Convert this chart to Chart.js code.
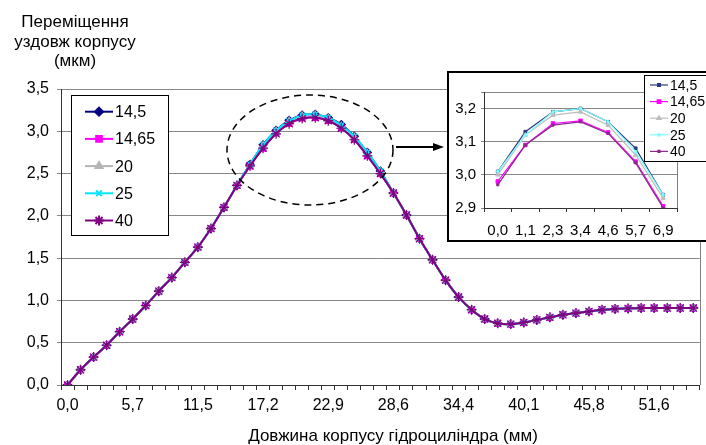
<!DOCTYPE html>
<html>
<head>
<meta charset="utf-8">
<script src="https://cdn.jsdelivr.net/npm/chart.js@4.4.1/dist/chart.umd.min.js"></script>
<style>
    html, body { margin: 0; padding: 0; background: #fff; overflow: hidden; }
    #wrap { position: relative; width: 706px; height: 445px; }
    #main { position: absolute; left: 0; top: 0; }
    #insetBox {
        position: absolute; left: 447px; top: 71px;
        width: 258px; height: 167px;
        border: 2px solid #000; background: #fff;
    }
</style>
</head>
<body>
<div id="wrap">
    <canvas id="main" width="706" height="445"></canvas>
    <div id="insetBox"><canvas id="inset" width="258" height="167"></canvas></div>
</div>
<script>
// ---- DATA ----
const xLabels = ['0,0', '1,1', '2,3', '3,4', '4,6', '5,7', '6,9', '8,0', '9,2', '10,3',
    '11,5', '12,6', '13,8', '14,9', '16,0', '17,2', '18,3', '19,5', '20,6', '21,8',
    '22,9', '24,1', '25,2', '26,4', '27,5', '28,6', '29,8', '30,9', '32,1', '33,2',
    '34,4', '35,5', '36,7', '37,8', '39,0', '40,1', '41,3', '42,4', '43,5', '44,7',
    '45,8', '47,0', '48,1', '49,3', '50,4', '51,6', '52,7', '53,9', '55,0'];
const insetLabels = ['0,0', '1,1', '2,3', '3,4', '4,6', '5,7', '6,9'];

const seriesNames = ['14,5', '14,65', '20', '25', '40'];

// shared parts of the curve (all series coincide here)
const rising = [0.00, 0.18, 0.33, 0.47, 0.63, 0.78, 0.94, 1.11, 1.27, 1.45, 1.63, 1.85, 2.10, 2.36];
const tail = [2.27, 2.01, 1.73, 1.48, 1.24, 1.04, 0.89, 0.78, 0.73, 0.72, 0.74, 0.77,
    0.80, 0.83, 0.85, 0.87, 0.89, 0.90, 0.905, 0.91, 0.91, 0.91, 0.91, 0.91];

// peak region, where the series separate (zoomed in the inset)
const peak145 = [2.61, 2.84, 3.01, 3.13, 3.19, 3.20, 3.16, 3.08, 2.94, 2.75, 2.53];
const peak1465 = [2.59, 2.80, 2.98, 3.09, 3.155, 3.163, 3.128, 3.04, 2.905, 2.71, 2.50];
const peak20 = [2.60, 2.83, 3.00, 3.12, 3.18, 3.19, 3.15, 3.06, 2.93, 2.74, 2.52];
const peak25 = [2.61, 2.84, 3.01, 3.12, 3.19, 3.20, 3.16, 3.07, 2.94, 2.75, 2.53];
const peak40 = [2.59, 2.80, 2.97, 3.09, 3.15, 3.16, 3.125, 3.036, 2.90, 2.71, 2.50];

const yTicksMain = { min: 0, max: 3.5, step: 0.5 };
const yTicksInset = { min: 2.9, max: 3.25, step: 0.1 };

const FONT = "'Liberation Sans', Arial, sans-serif";

const peaks = [peak145, peak1465, peak20, peak25, peak40];
const styles = [
    { color: '#000080', point: 'rectRot', radius: 4 },
    { color: '#FF00FF', point: 'rect', radius: 4 },
    { color: '#B4B4B4', point: 'triangle', radius: 4 },
    { color: '#00E5FF', point: 'crossRot', radius: 4 },
    { color: '#800080', point: 'star', radius: 5 }
];
const insetStyles = [
    { color: '#2A3A80', point: 'rect', radius: 2 },
    { color: '#FF00FF', point: 'rect', radius: 2.5 },
    { color: '#BDBDBD', point: 'triangle', radius: 2.5 },
    { color: '#7FFFFF', point: 'rect', radius: 1.5 },
    { color: '#8A2A8A', point: 'rect', radius: 1.5 }
];

const fmt = v => (Math.round(v * 100) / 100).toFixed(1).replace('.', ',');

function drawMarker(ctx, st, x, y) {
    ctx.fillStyle = st.color;
    ctx.strokeStyle = st.color;
    Chart.helpers.drawPoint(ctx, { pointStyle: st.point, radius: st.radius, rotation: 0, borderWidth: 1.2 }, x, y);
}

// ---- MAIN CHART ----
const mainDecor = {
    id: 'mainDecor',
    afterDraw(chart) {
        const ctx = chart.ctx;
        const a = chart.chartArea;
        ctx.save();
        // right border of plot area
        ctx.strokeStyle = '#808080';
        ctx.lineWidth = 1;
        ctx.beginPath();
        ctx.moveTo(Math.round(a.right) + 0.5, a.top);
        ctx.lineTo(Math.round(a.right) + 0.5, a.bottom);
        ctx.stroke();

        // axis titles
        ctx.fillStyle = '#000';
        ctx.font = '17px ' + FONT;
        ctx.textAlign = 'center';
        ctx.textBaseline = 'alphabetic';
        ctx.fillText('Переміщення', 75, 27);
        ctx.fillText('уздовж корпусу', 75, 46.5);
        ctx.fillText('(мкм)', 75, 66);
        ctx.fillText('Довжина корпусу гідроциліндра (мм)', 393, 441);

        // dashed ellipse round the peak
        ctx.strokeStyle = '#000';
        ctx.lineWidth = 1.5;
        ctx.setLineDash([7, 5]);
        ctx.beginPath();
        ctx.ellipse(310, 150, 83, 55, 0, 0, Math.PI * 2);
        ctx.stroke();
        ctx.setLineDash([]);

        // arrow to inset
        ctx.lineWidth = 2;
        ctx.beginPath();
        ctx.moveTo(396, 147);
        ctx.lineTo(434, 147);
        ctx.stroke();
        ctx.fillStyle = '#000';
        ctx.beginPath();
        ctx.moveTo(433, 143);
        ctx.lineTo(444, 147);
        ctx.lineTo(433, 151);
        ctx.closePath();
        ctx.fill();

        // legend
        ctx.fillStyle = '#fff';
        ctx.fillRect(71, 95, 97, 140);
        ctx.strokeStyle = '#000';
        ctx.lineWidth = 1;
        ctx.strokeRect(71.5, 95.5, 97, 140);
        ctx.font = '16px ' + FONT;
        ctx.textAlign = 'left';
        ctx.textBaseline = 'middle';
        seriesNames.forEach((name, i) => {
            const y = 111.7 + i * 27.2;
            const st = styles[i];
            ctx.strokeStyle = st.color;
            ctx.lineWidth = 2;
            ctx.beginPath();
            ctx.moveTo(85, y);
            ctx.lineTo(113, y);
            ctx.stroke();
            drawMarker(ctx, st, 99, y);
            ctx.fillStyle = '#000';
            ctx.fillText(name, 115, y + 1);
        });
        ctx.restore();
    }
};

new Chart(document.getElementById('main'), {
    type: 'line',
    data: {
        labels: xLabels,
        datasets: seriesNames.map((name, i) => ({
            label: name,
            data: [...rising, ...peaks[i], ...tail],
            borderColor: styles[i].color,
            backgroundColor: styles[i].color,
            borderWidth: 2,
            pointStyle: styles[i].point,
            pointRadius: styles[i].radius,
            pointBorderWidth: 1.2,
            tension: 0.25,
            order: 5 - i
        }))
    },
    options: {
        responsive: false,
        animation: false,
        layout: { padding: { top: 89, right: 2, left: 0, bottom: 0 } },
        plugins: { legend: { display: false }, tooltip: { enabled: false } },
        scales: {
            x: {
                offset: true,
                grid: { offset: true, drawOnChartArea: false, tickLength: 5, color: '#333' },
                border: { color: '#333' },
                ticks: {
                    autoSkip: false, maxRotation: 0, padding: 6,
                    color: '#000', font: { family: FONT, size: 16 },
                    callback(v, i) { return i % 5 === 0 ? this.getLabelForValue(v) : ''; }
                },
                afterFit(s) { s.height = 60; }
            },
            y: {
                min: yTicksMain.min, max: yTicksMain.max,
                grid: { color: '#888', tickLength: 4 },
                border: { color: '#333' },
                ticks: {
                    stepSize: yTicksMain.step, padding: 8,
                    color: '#000', font: { family: FONT, size: 16 },
                    callback: v => fmt(v)
                },
                afterFit(s) { s.width = 61; }
            }
        }
    },
    plugins: [mainDecor]
});

// ---- INSET CHART ----
const insetDecor = {
    id: 'insetDecor',
    afterDraw(chart) {
        const ctx = chart.ctx;
        const a = chart.chartArea;
        ctx.save();
        ctx.strokeStyle = '#808080';
        ctx.lineWidth = 1;
        ctx.beginPath();
        ctx.moveTo(Math.round(a.right) + 0.5, a.top);
        ctx.lineTo(Math.round(a.right) + 0.5, a.bottom);
        ctx.stroke();

        // legend
        ctx.fillStyle = '#fff';
        ctx.fillRect(195, 2, 80, 86);
        ctx.strokeStyle = '#000';
        ctx.strokeRect(195.5, 2.5, 80, 86);
        ctx.font = '14px ' + FONT;
        ctx.textAlign = 'left';
        ctx.textBaseline = 'middle';
        seriesNames.forEach((name, i) => {
            const y = 12 + i * 16.6;
            const st = insetStyles[i];
            ctx.strokeStyle = st.color;
            ctx.lineWidth = 1.2;
            ctx.beginPath();
            ctx.moveTo(201, y);
            ctx.lineTo(219, y);
            ctx.stroke();
            drawMarker(ctx, st, 210, y);
            ctx.fillStyle = '#000';
            ctx.fillText(name, 221, y + 1);
        });
        ctx.restore();
    }
};

new Chart(document.getElementById('inset'), {
    type: 'line',
    data: {
        labels: insetLabels,
        datasets: seriesNames.map((name, i) => ({
            label: name,
            data: peaks[i].slice(2, 9),
            borderColor: insetStyles[i].color,
            backgroundColor: insetStyles[i].color,
            borderWidth: 1.2,
            pointStyle: insetStyles[i].point,
            pointRadius: insetStyles[i].radius,
            pointBorderWidth: 1,
            tension: 0,
            order: 5 - i
        }))
    },
    options: {
        responsive: false,
        animation: false,
        layout: { padding: { top: 19, right: 30, left: 0, bottom: 0 } },
        plugins: { legend: { display: false }, tooltip: { enabled: false } },
        scales: {
            x: {
                offset: true,
                grid: { offset: true, drawOnChartArea: false, tickLength: 4, color: '#333' },
                border: { color: '#333' },
                ticks: {
                    autoSkip: false, maxRotation: 0, padding: 10,
                    color: '#000', font: { family: FONT, size: 15 }
                },
                afterFit(s) { s.height = 32; }
            },
            y: {
                min: yTicksInset.min, max: yTicksInset.max,
                grid: { color: '#888', tickLength: 3 },
                border: { color: '#333' },
                ticks: {
                    stepSize: yTicksInset.step, padding: 5,
                    color: '#000', font: { family: FONT, size: 15 },
                    callback: v => (Math.abs(v - 3.25) < 0.001 ? '' : fmt(v))
                },
                afterFit(s) { s.width = 35; }
            }
        }
    },
    plugins: [insetDecor]
});
</script>
</body>
</html>
